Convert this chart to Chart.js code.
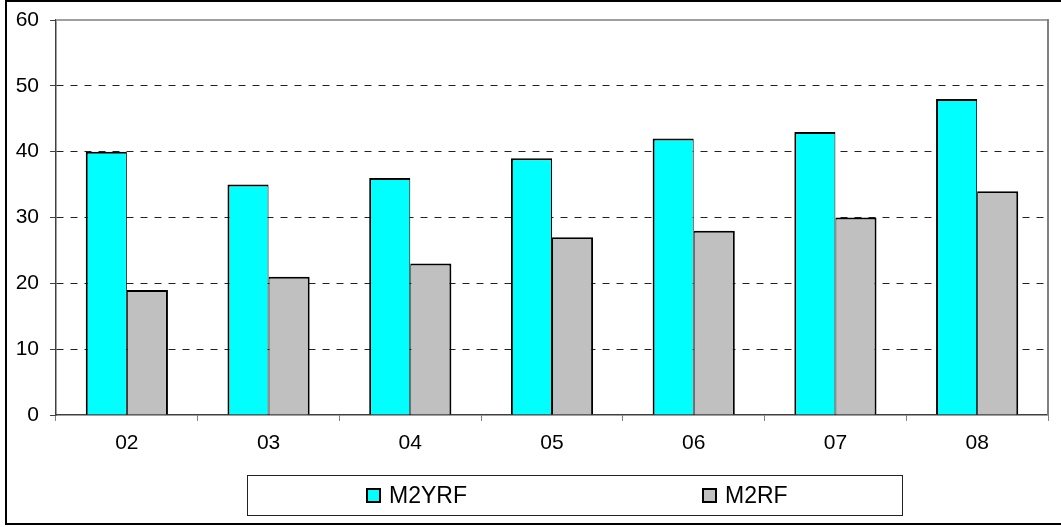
<!DOCTYPE html>
<html>
<head>
<meta charset="utf-8">
<script src="https://cdn.jsdelivr.net/npm/chart.js@4.4.1/dist/chart.umd.min.js"></script>
<style>
  html, body { margin: 0; padding: 0; background: #fff; }
  #wrap { position: relative; width: 1061px; height: 527px; overflow: hidden; background: #fff; }
  #c { position: absolute; left: 0; top: 0; }
  #frame { position: absolute; left: 5px; top: 0px; width: 1100px; height: 521px;
           border-left: 2px solid #000; border-top: 2px solid #000; border-bottom: 2px solid #000; box-sizing: content-box; }
  #legend { position: absolute; left: 247px; top: 475px; width: 656px; height: 41px;
            border: 1.5px solid #222; box-sizing: border-box; font-family: "Liberation Sans", Arial, sans-serif; font-size: 23px; color: #000; }
  .item { position: absolute; top: 0; height: 100%; display: flex; align-items: center; }
  .swatch { width: 11px; height: 11px; border: 2px solid #000; margin-right: 8px; }
</style>
</head>
<body>
<div id="wrap">
  <canvas id="c" width="1061" height="527"></canvas>
  <div id="frame"></div>
  <div id="legend"></div>
</div>
<script>
const categories = ['02', '03', '04', '05', '06', '07', '08'];
const seriesNames = ['M2YRF', 'M2RF'];
const m2yrfValues = [40, 35, 36, 39, 42, 43, 48];
const m2rfValues = [19, 21, 23, 27, 28, 30, 34];
const yTickMin = 0, yTickMax = 60, yTickStep = 10;

const seriesColors = ['#00FFFF', '#C0C0C0'];
const FONT = "'Liberation Sans', Arial, sans-serif";

const framePlugin = {
  id: 'frame',
  afterDatasetsDraw(chart) {
    const { ctx, chartArea: a } = chart;
    ctx.save();
    ctx.lineWidth = 2;
    ctx.strokeStyle = '#a0a0a0';
    ctx.beginPath();
    ctx.moveTo(a.left, a.top);
    ctx.lineTo(a.right, a.top);
    ctx.stroke();
    ctx.strokeStyle = '#808080';
    ctx.beginPath();
    ctx.moveTo(a.right, a.top - 1);
    ctx.lineTo(a.right, a.bottom);
    ctx.stroke();
    ctx.restore();
  }
};

new Chart(document.getElementById('c'), {
  type: 'bar',
  data: {
    labels: categories,
    datasets: [
      {
        label: seriesNames[0], data: m2yrfValues,
        backgroundColor: seriesColors[0], borderColor: '#000',
        borderWidth: { top: 2, left: 2, right: 1, bottom: 0 }, borderSkipped: false
      },
      {
        label: seriesNames[1], data: m2rfValues,
        backgroundColor: seriesColors[1], borderColor: '#000',
        borderWidth: { top: 2, left: 1, right: 2, bottom: 0 }, borderSkipped: false
      }
    ]
  },
  options: {
    responsive: false,
    animation: false,
    events: [],
    layout: { padding: { top: 20, right: 13, left: 0, bottom: 0 } },
    datasets: { bar: { categoryPercentage: 0.58, barPercentage: 1.0 } },
    plugins: { legend: { display: false }, tooltip: { enabled: false } },
    scales: {
      x: {
        grid: { offset: true, drawOnChartArea: false, drawTicks: true, tickLength: 6, color: '#808080', lineWidth: 1 },
        border: { display: true, color: '#404040', width: 1.5 },
        ticks: { color: '#000', font: { family: FONT, size: 21 }, padding: 10, maxRotation: 0 },
        afterFit(s) { s.height = 112; s.paddingLeft = 0; s.paddingRight = 0; }
      },
      y: {
        min: yTickMin, max: yTickMax,
        ticks: { stepSize: yTickStep, color: '#000', font: { family: FONT, size: 21 }, padding: 11 },
        grid: {
          color: ctx => (ctx.tick && (ctx.tick.value === yTickMax || ctx.tick.value === yTickMin)) ? 'rgba(0,0,0,0)' : '#222',
          tickColor: '#404040', tickLength: 6, lineWidth: 1, tickBorderDash: []
        },
        border: { display: true, color: '#404040', width: 1.5, dash: [7, 7] },
        afterFit(s) { s.width = 56; s.paddingTop = 0; s.paddingBottom = 0; }
      }
    }
  },
  plugins: [framePlugin]
});

// legend built from the series definitions
const legend = document.getElementById('legend');
const itemLeft = [118, 454];
seriesNames.forEach((name, i) => {
  const it = document.createElement('div');
  it.className = 'item';
  it.style.left = itemLeft[i] + 'px';
  const sw = document.createElement('span');
  sw.className = 'swatch';
  sw.style.background = seriesColors[i];
  const tx = document.createElement('span');
  tx.textContent = name;
  it.appendChild(sw);
  it.appendChild(tx);
  legend.appendChild(it);
});
</script>
</body>
</html>
